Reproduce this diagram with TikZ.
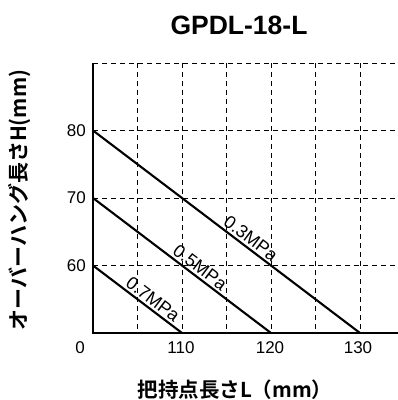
\documentclass[tikz,border=0pt]{standalone}
\usepackage{fontspec}
\setmainfont{Liberation Sans}
\newfontfamily\jpb{Noto Sans CJK JP Bold}
\tikzset{
  gridline/.style={dash pattern=on 5pt off 4pt, line width=0.9pt},
  axisline/.style={line width=1.3pt},
  curve/.style={line width=2.1pt},
  ticklbl/.style={font=\fontsize{17}{17}\selectfont, inner sep=0pt},
  mpalbl/.style={font=\fontsize{18}{18}\selectfont, inner sep=2pt, sloped, above},
}
\begin{document}
\begin{tikzpicture}[x=1pt,y=-1pt]
\useasboundingbox (0,0) rectangle (398,400);
% grid
\foreach \yy in {63,130.5,198,265.5}
  \draw[gridline] (93,\yy) -- (398,\yy);
\foreach \xx in {137.5,182,226.5,271,315.5,360}
  \draw[gridline] (\xx,63) -- (\xx,333);
% axes
\coordinate (O) at (93,333);
\coordinate (T) at (93,63);
\coordinate (R) at (398,333);
\draw[axisline] (T) -- (O) -- (R);
% curves
\coordinate (h80) at (93,130.5);
\coordinate (h70) at (93,198);
\coordinate (h60) at (93,265.5);
\coordinate (l130) at (360,333);
\coordinate (l120) at (271,333);
\coordinate (l110) at (182,333);
\draw[curve] (h80) -- (l130) node[mpalbl, pos=0.57] (p3) {0.3MPa};
\draw[curve] (h70) -- (l120) node[mpalbl, pos=0.57] (p5) {0.5MPa};
\draw[curve] (h60) -- (l110) node[mpalbl, pos=0.61] (p7) {0.7MPa};
% tick labels
\node[ticklbl, anchor=east] (y80) at (86,130.5) {80};
\node[ticklbl, anchor=east] (y70) at (86,198) {70};
\node[ticklbl, anchor=east] (y60) at (86,265.5) {60};
\node[ticklbl] (x0) at (80,348) {0};
\node[ticklbl] (x110) at (181,348) {110};
\node[ticklbl] (x120) at (270,348) {120};
\node[ticklbl] (x130) at (358,348) {130};
% titles
\node[font=\bfseries\fontsize{26.5}{26.5}\selectfont] (title) at (239,25) {GPDL-18-L};
\node[font=\jpb\fontsize{21}{21}\selectfont, rotate=90] (ylab) at (20,200) {オーバーハング長さH(mm)};
\node[font=\jpb\fontsize{20.5}{20.5}\selectfont] (xlab) at (235,390) {把持点長さL（mm）};
\end{tikzpicture}
\end{document}
